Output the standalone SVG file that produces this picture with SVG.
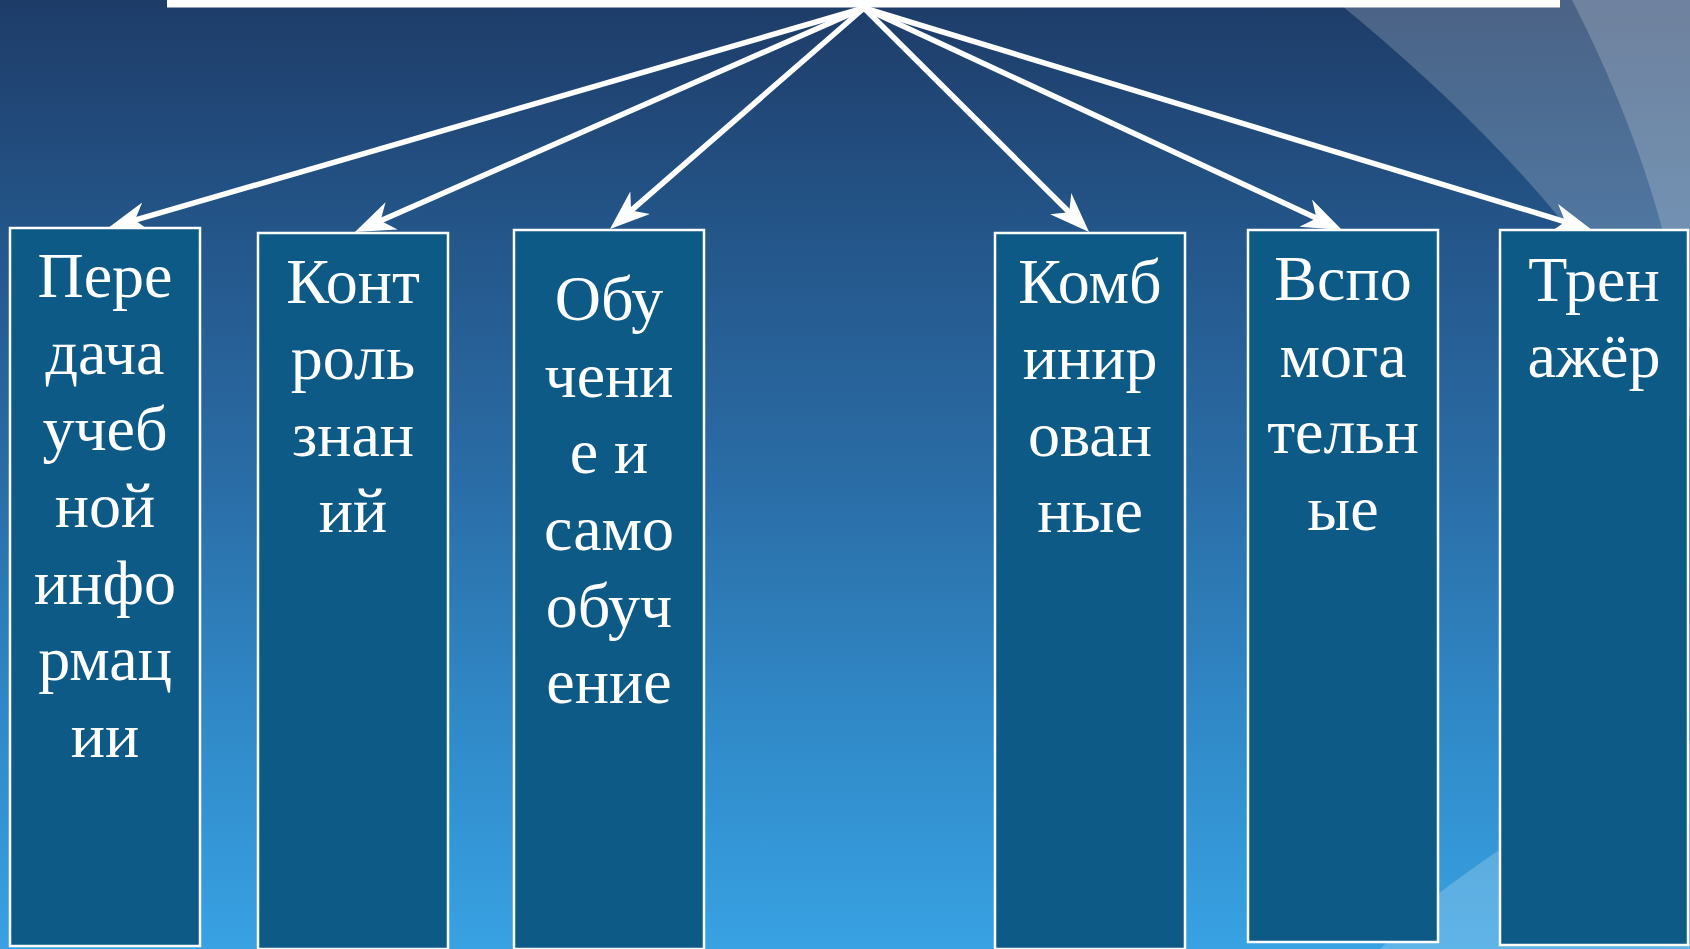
<svg xmlns="http://www.w3.org/2000/svg" width="1690" height="949" viewBox="0 0 1690 949">
  <defs>
    <linearGradient id="bg" x1="0" y1="0" x2="0" y2="1">
      <stop offset="0" stop-color="#1E3C68"/>
      <stop offset="0.25" stop-color="#24568A"/>
      <stop offset="0.5" stop-color="#2A6CA5"/>
      <stop offset="0.75" stop-color="#3088C6"/>
      <stop offset="1" stop-color="#38A2E3"/>
    </linearGradient>
    <marker id="stealth" markerUnits="userSpaceOnUse" viewBox="0 0 40 30" refX="12" refY="15" markerWidth="40" markerHeight="30" orient="auto">
      <path d="M0,0 L40,15 L0,30 L12,15 Z" fill="#FFFFFF"/>
    </marker>
  </defs>
  <style>
    .box { fill: #0E5A87; stroke: #FFFFFF; stroke-width: 2.5; }
    .lbl { font-family: "Liberation Serif", "Times New Roman", serif; font-size: 64px; fill: #FFFFFF; text-anchor: middle; }
    .conn { stroke: #FFFFFF; stroke-width: 5.5; fill: none; marker-end: url(#stealth); }
    .swoosh { fill: #FFFFFF; fill-opacity: 0.2; }
  </style>

  <!-- background -->
  <rect x="0" y="0" width="1690" height="949" fill="url(#bg)"/>
  <path class="swoosh" d="M1335,0 C1420,70 1520,160 1600,270 L1690,420 L1690,0 Z"/>
  <path class="swoosh" d="M1572,0 C1600,55 1640,140 1668,250 L1690,330 L1690,0 Z"/>
  <path class="swoosh" d="M1380,949 L1439,893 Q1470,870 1499,850 L1690,740 L1690,949 Z"/>

  <!-- top node (cut off) -->
  <g id="node-top">
    <rect x="167" y="-10" width="1393" height="17.5" fill="#FFFFFF"/>
  </g>

  <!-- connectors -->
  <g id="connectors">
    <line class="conn" x1="864" y1="8" x2="134.9" y2="220.2"/>
    <line class="conn" x1="864" y1="8" x2="380.6" y2="220.7"/>
    <line class="conn" x1="864" y1="8" x2="631.1" y2="210.6"/>
    <line class="conn" x1="864" y1="8" x2="1069.2" y2="212.2"/>
    <line class="conn" x1="864" y1="8" x2="1316.6" y2="218.2"/>
    <line class="conn" x1="864" y1="8" x2="1565.2" y2="221.8"/>
  </g>

  <g id="node-1">
    <rect class="box" x="10" y="228" width="190" height="718"/>
    <text class="lbl" x="105" y="297">Пере</text>
    <text class="lbl" x="105" y="374">дача</text>
    <text class="lbl" x="105" y="450">учеб</text>
    <text class="lbl" x="105" y="527">ной</text>
    <text class="lbl" x="105" y="604">инфо</text>
    <text class="lbl" x="105" y="680">рмац</text>
    <text class="lbl" x="105" y="757">ии</text>
  </g>

  <g id="node-2">
    <rect class="box" x="258" y="233" width="190" height="716"/>
    <text class="lbl" x="353" y="303">Конт</text>
    <text class="lbl" x="353" y="379">роль</text>
    <text class="lbl" x="353" y="456">знан</text>
    <text class="lbl" x="353" y="532">ий</text>
  </g>

  <g id="node-3">
    <rect class="box" x="514" y="230" width="190" height="719"/>
    <text class="lbl" x="609" y="320">Обу</text>
    <text class="lbl" x="609" y="397">чени</text>
    <text class="lbl" x="609" y="473">е и</text>
    <text class="lbl" x="609" y="550">само</text>
    <text class="lbl" x="609" y="627">обуч</text>
    <text class="lbl" x="609" y="703">ение</text>
  </g>

  <g id="node-4">
    <rect class="box" x="995" y="233" width="190" height="716"/>
    <text class="lbl" x="1090" y="303">Комб</text>
    <text class="lbl" x="1090" y="379">инир</text>
    <text class="lbl" x="1090" y="456">ован</text>
    <text class="lbl" x="1090" y="532">ные</text>
  </g>

  <g id="node-5">
    <rect class="box" x="1248" y="230" width="190" height="712"/>
    <text class="lbl" x="1343" y="300">Вспо</text>
    <text class="lbl" x="1343" y="377">мога</text>
    <text class="lbl" x="1343" y="453">тельн</text>
    <text class="lbl" x="1343" y="530">ые</text>
  </g>

  <g id="node-6">
    <rect class="box" x="1500" y="230" width="188" height="715"/>
    <text class="lbl" x="1594" y="301">Трен</text>
    <text class="lbl" x="1594" y="377">ажёр</text>
  </g>
</svg>
